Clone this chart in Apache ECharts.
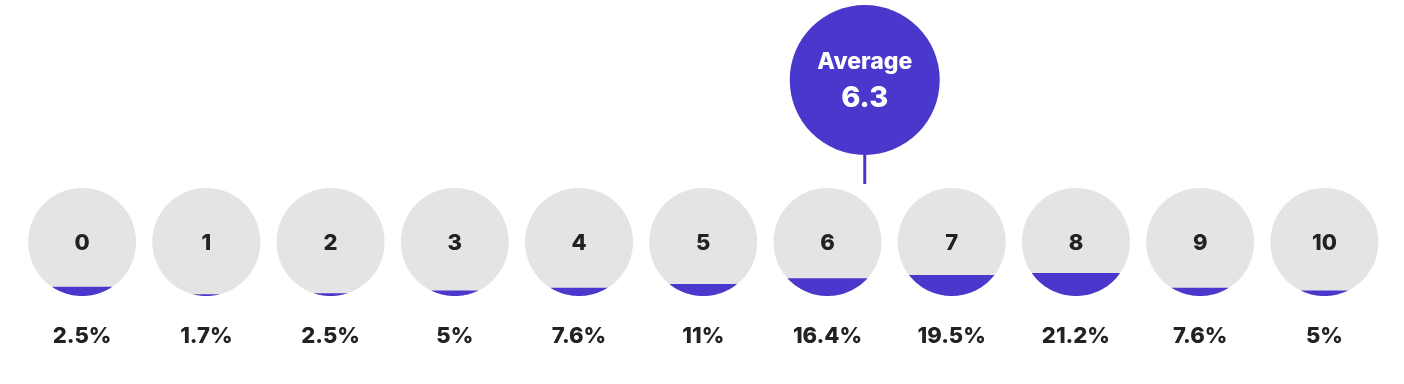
<!DOCTYPE html>
<html>
<head>
<meta charset="utf-8">
<script src="https://cdn.jsdelivr.net/npm/echarts@6/dist/echarts.min.js"></script>
<style>
  html, body { margin: 0; padding: 0; background: #ffffff; }
  #chart { width: 1404px; height: 384px; }
</style>
</head>
<body>
<div id="chart"></div>
<script>
const categories = ['0', '1', '2', '3', '4', '5', '6', '7', '8', '9', '10'];
const shares = [2.5, 1.7, 2.5, 5, 7.6, 11, 16.4, 19.5, 21.2, 7.6, 5];
const fillLevels = [8.5, 1.7, 2.5, 5, 7.6, 11, 16.4, 19.5, 21.2, 7.6, 5];
const averageLabel = 'Average';
const averageValue = 6.3;

const BLUE = '#4a37cb';
const GREY = '#e4e4e4';
const DARK = '#222222';
const FONT = 'Inter, "Noto Sans", sans-serif';

const chart = echarts.init(document.getElementById('chart'), null, { renderer: 'canvas' });

const circleData = categories.map((c, i) => [i, fillLevels[i], shares[i]]);

chart.setOption({
  backgroundColor: '#ffffff',
  animation: false,
  grid: { left: 20, right: 17.5, top: 188, bottom: 88 },
  xAxis: { type: 'value', min: -0.5, max: 10.5, show: false },
  yAxis: { type: 'value', min: 0, max: 100, show: false },
  series: [
    {
      type: 'custom',
      coordinateSystem: 'cartesian2d',
      data: circleData,
      renderItem: function (params, api) {
        const i = api.value(0);
        const fill = api.value(1);
        const share = api.value(2);
        const top = api.coord([i, 100]);
        const bot = api.coord([i, 0]);
        const r = (bot[1] - top[1]) / 2;
        const cx = top[0];
        const cy = (top[1] + bot[1]) / 2;
        const fy = api.coord([i, fill])[1];
        const s0 = Math.max(-1, Math.min(1, (fy - cy) / r));
        const t0 = Math.asin(s0);
        const pts = [];
        const N = 48;
        for (let k = 0; k <= N; k++) {
          const t = t0 + (Math.PI - 2 * t0) * k / N;
          pts.push([cx + r * Math.cos(t), cy + r * Math.sin(t)]);
        }
        return {
          type: 'group',
          children: [
            { type: 'circle', shape: { cx: cx, cy: cy, r: r }, style: { fill: GREY } },
            { type: 'polygon', shape: { points: pts }, style: { fill: BLUE } },
            {
              type: 'text',
              style: {
                text: categories[i], x: cx, y: cy + 1,
                align: 'center', verticalAlign: 'middle',
                fill: DARK, font: '800 22px ' + FONT
              }
            },
            {
              type: 'text',
              style: {
                text: share + '%', x: cx, y: bot[1] + 40,
                align: 'center', verticalAlign: 'middle',
                fill: DARK, font: '800 22px ' + FONT
              }
            }
          ]
        };
      },
      z: 2
    },
    {
      type: 'custom',
      coordinateSystem: 'cartesian2d',
      data: [[averageValue, 100]],
      renderItem: function (params, api) {
        const p = api.coord([api.value(0), api.value(1)]);
        const x = p[0];
        const lineBottom = p[1] - 4;
        const lineTop = p[1] - 33;
        const R = 75;
        const cy = lineTop - R;
        return {
          type: 'group',
          children: [
            { type: 'line', shape: { x1: x, y1: lineTop, x2: x, y2: lineBottom }, style: { stroke: BLUE, lineWidth: 3 } },
            { type: 'circle', shape: { cx: x, cy: cy, r: R }, style: { fill: BLUE } },
            {
              type: 'text',
              style: {
                text: averageLabel, x: x, y: cy - 18,
                align: 'center', verticalAlign: 'middle',
                fill: '#ffffff', font: '800 23px ' + FONT
              }
            },
            {
              type: 'text',
              style: {
                text: String(averageValue), x: x, y: cy + 18,
                align: 'center', verticalAlign: 'middle',
                fill: '#ffffff', font: '800 29px ' + FONT
              }
            }
          ]
        };
      },
      z: 3
    }
  ]
});
</script>
</body>
</html>
